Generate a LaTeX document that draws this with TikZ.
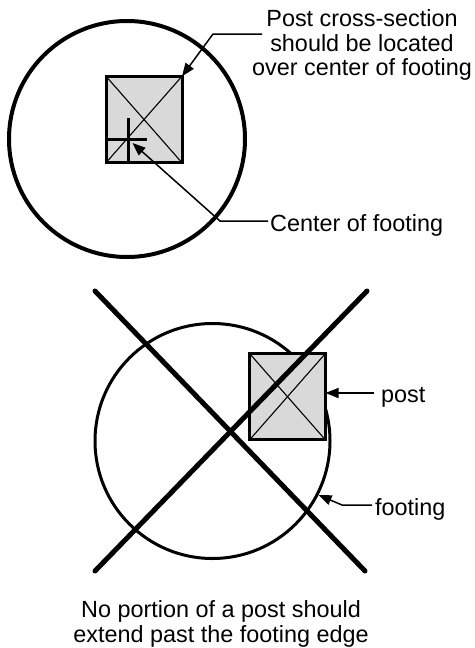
\documentclass[tikz,border=0pt]{standalone}
\usepackage{fontspec}
\setmainfont{Liberation Sans}
\usetikzlibrary{arrows.meta}
\begin{document}
\begin{tikzpicture}[x=1pt,y=-1pt,
  lbl/.style={inner sep=0pt, font=\fontsize{23.4}{24.75}\selectfont},
  postbox/.style={draw, line width=3pt, fill=black!15, minimum width=76pt, minimum height=86.5pt, inner sep=0pt, outer sep=0pt},
  footbox/.style={draw, circle, inner sep=0pt, minimum size=236pt},
  leader/.style={line width=1.5pt, -{Triangle[length=13pt,width=10pt]}},
  thinline/.style={line width=1.1pt},
  markline/.style={line width=3pt},
  bigx/.style={line width=5pt, line cap=round}]
\useasboundingbox (0,0) rectangle (474,648);

% ---------- top diagram ----------
\node[footbox, line width=4pt] (footing1) at (127,139) {};
\node[postbox] (post1) at (144,119.5) {};
\draw[thinline] (post1.north west) -- (post1.south east);
\draw[thinline] (post1.south west) -- (post1.north east);
\coordinate (ctr) at (128,139);
\draw[markline] (ctr |- 0,118) -- (ctr |- post1.south);
\draw[markline] (ctr -| post1.west) -- (147,139);

\node[lbl, align=center, anchor=north] (t1) at (362,9.25)
  {Post cross-section\\should be located\\over center of footing};
\coordinate (c1) at (262,34);
\coordinate (b1) at (213,34);
\draw[leader] (c1) -- (b1) -- (post1.north east);

\node[lbl, anchor=base west] (t2) at (270,231) {Center of footing};
\coordinate (c2) at (268,221);
\coordinate (b2) at (220,221);
\draw[leader, shorten >=6pt] (c2) -- (b2) -- (ctr);

% ---------- bottom diagram ----------
\node[footbox, line width=3pt, minimum size=235pt] (footing2) at (212.5,441) {};
\node[postbox] (post2) at (287.5,396.7) {};
\draw[thinline] (post2.north west) -- (post2.south east);
\draw[thinline] (post2.south west) -- (post2.north east);
\coordinate (x1a) at (95,291);
\coordinate (x1b) at (365,571);
\coordinate (x2a) at (367,291);
\coordinate (x2b) at (95,571);
\draw[bigx] (x1a) -- (x1b);
\draw[bigx] (x2a) -- (x2b);

\node[lbl, anchor=base west] (t3) at (381,402) {post};
\coordinate (c3) at (374,393);
\draw[leader] (c3) -- (c3 -| post2.east);

\node[lbl, anchor=base west] (t4) at (375,515) {footing};
\coordinate (c4) at (372,505);
\coordinate (b4) at (342,505);
\draw[leader] (c4) -- (b4) -- (footing2.-27);

\node[lbl, align=center, anchor=north] (t5) at (221,600.5)
  {No portion of a post should\\extend past the footing edge};
\end{tikzpicture}
\end{document}
